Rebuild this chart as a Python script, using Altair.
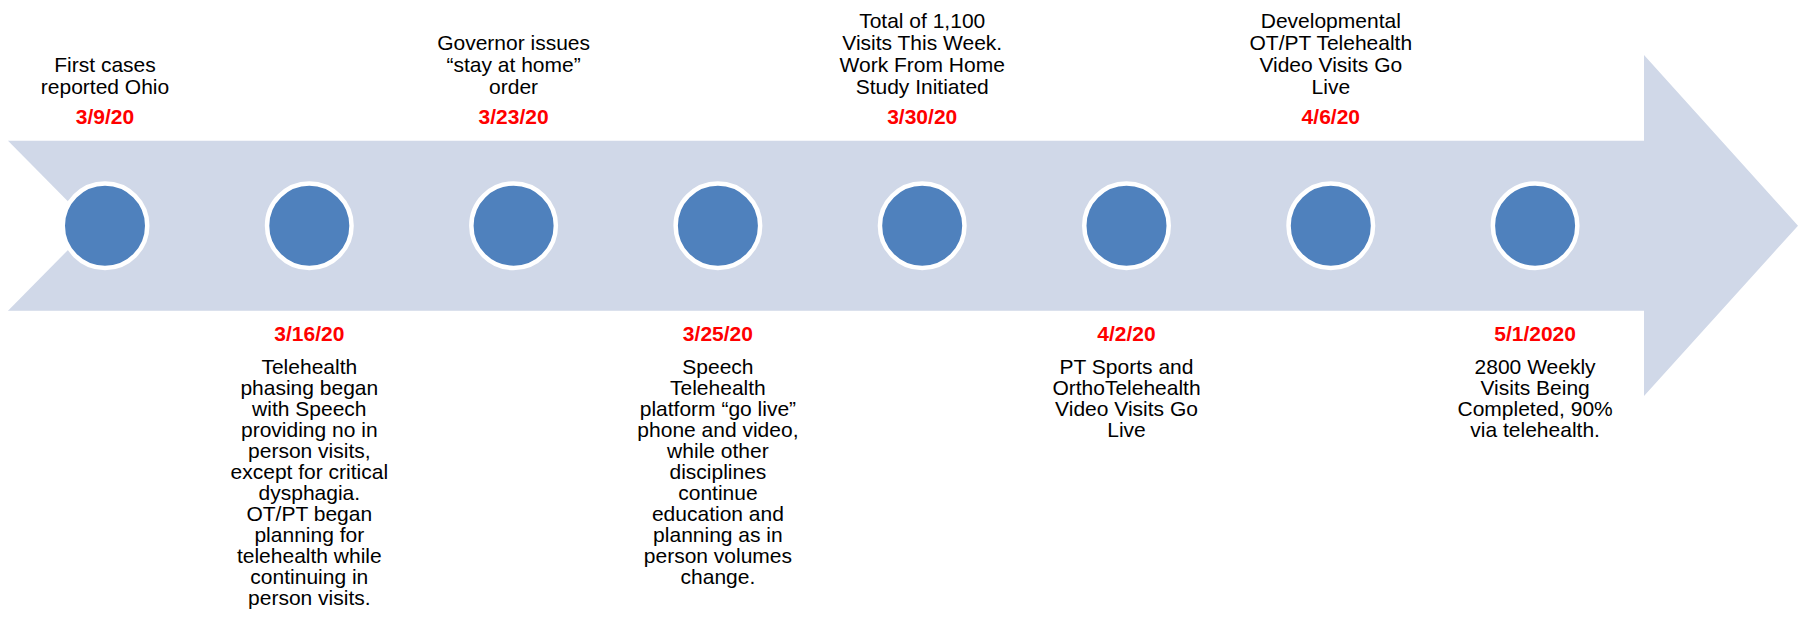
import altair as alt
import pandas as pd

# ---------------- data ----------------
dates = ["3/9/20", "3/16/20", "3/23/20", "3/25/20", "3/30/20", "4/2/20", "4/6/20", "5/1/2020"]
descs = [
    "First cases\nreported Ohio",
    "Telehealth\nphasing began\nwith Speech\nproviding no in\nperson visits,\nexcept for critical\ndysphagia.\nOT/PT began\nplanning for\ntelehealth while\ncontinuing in\nperson visits.",
    "Governor issues\n\u201cstay at home\u201d\norder",
    "Speech\nTelehealth\nplatform \u201cgo live\u201d\nphone and video,\nwhile other\ndisciplines\ncontinue\neducation and\nplanning as in\nperson volumes\nchange.",
    "Total of 1,100\nVisits This Week.\nWork From Home\nStudy Initiated",
    "PT Sports and\nOrthoTelehealth\nVideo Visits Go\nLive",
    "Developmental\nOT/PT Telehealth\nVideo Visits Go\nLive",
    "2800 Weekly\nVisits Being\nCompleted, 90%\nvia telehealth.",
]
sides = ["top", "bottom", "top", "bottom", "top", "bottom", "top", "bottom"]

# ---------------- layout (page pixels) ----------------
PAGE = 8
W, H = 1790, 603
CX0, DX = 105.0, 204.3          # first circle centre and spacing
BAND_TOP, BAND_BOT, MID = 140.7, 310.7, 225.7
NOTCH_X = 92
SHAFT_END = 1644
HEAD_TOP, HEAD_BOT = 55, 396
TIP_X = 1798
FONT = "Liberation Sans, Arial, Helvetica, sans-serif"
FS = 21
LH_TOP = 22.2
LH_BOT = 21.0
DIAM = 84.5


def ux(px):
    return (px - CX0) / DX


events = pd.DataFrame({"pos": list(range(len(dates))), "date": dates, "desc": descs, "side": sides})
events["nlines"] = events["desc"].str.count("\n") + 1

xscale = alt.Scale(domain=[ux(PAGE), ux(PAGE + W)], nice=False, zero=False)
yscale = alt.Scale(domain=[PAGE, PAGE + H], reverse=True, nice=False, zero=False)

arrow = pd.DataFrame({
    "x": [ux(PAGE), ux(SHAFT_END), ux(SHAFT_END + 0.01), ux(TIP_X)],
    "y": [BAND_TOP, BAND_TOP, HEAD_TOP, MID],
    "y2": [BAND_BOT, BAND_BOT, HEAD_BOT, MID],
})
notch = pd.DataFrame({
    "x": [ux(PAGE - 2), ux(NOTCH_X)],
    "y": [BAND_TOP - 2, MID],
    "y2": [BAND_BOT + 2, MID],
})

band = alt.Chart(arrow).mark_area(color="#D0D8E8", interpolate="linear", opacity=1).encode(
    x=alt.X("x:Q", scale=xscale, axis=None),
    y=alt.Y("y:Q", scale=yscale, axis=None),
    y2="y2:Q",
)
notch_layer = alt.Chart(notch).mark_area(color="white", interpolate="linear", opacity=1).encode(
    x=alt.X("x:Q", scale=xscale, axis=None),
    y=alt.Y("y:Q", scale=yscale, axis=None),
    y2="y2:Q",
)

circles = alt.Chart(events).mark_point(
    shape="circle", filled=True, size=DIAM * DIAM, fill="#4F81BD", stroke="white", strokeWidth=4.5, opacity=1
).encode(
    x=alt.X("pos:Q", scale=xscale, axis=None),
    y=alt.Y(datum=MID, type="quantitative", scale=yscale, axis=None),
)

base = alt.Chart(events)

top_dates = base.transform_filter(alt.datum.side == "top").mark_text(
    font=FONT, fontSize=FS, fontWeight="bold", color="#FF0000", align="center", baseline="middle"
).encode(
    x=alt.X("pos:Q", scale=xscale, axis=None),
    y=alt.Y(datum=118.2, type="quantitative", scale=yscale, axis=None),
    text="date:N",
)
bot_dates = base.transform_filter(alt.datum.side == "bottom").mark_text(
    font=FONT, fontSize=FS, fontWeight="bold", color="#FF0000", align="center", baseline="middle"
).encode(
    x=alt.X("pos:Q", scale=xscale, axis=None),
    y=alt.Y(datum=334.8, type="quantitative", scale=yscale, axis=None),
    text="date:N",
)

top_desc = base.transform_filter(alt.datum.side == "top").transform_calculate(
    ytxt=f"94.2 - (datum.nlines - 1) * {LH_TOP}"
).mark_text(
    font=FONT, fontSize=FS, color="#000000", align="center", baseline="alphabetic",
    lineBreak="\n", lineHeight=LH_TOP
).encode(
    x=alt.X("pos:Q", scale=xscale, axis=None),
    y=alt.Y("ytxt:Q", scale=yscale, axis=None),
    text="desc:N",
)
bot_desc = base.transform_filter(alt.datum.side == "bottom").mark_text(
    font=FONT, fontSize=FS, color="#000000", align="center", baseline="alphabetic",
    lineBreak="\n", lineHeight=LH_BOT
).encode(
    x=alt.X("pos:Q", scale=xscale, axis=None),
    y=alt.Y(datum=373.5, type="quantitative", scale=yscale, axis=None),
    text="desc:N",
)

chart = alt.layer(band, notch_layer, circles, top_dates, bot_dates, top_desc, bot_desc).properties(
    width=W, height=H, padding=0, autosize=alt.AutoSizeParams(type="none"), background="white"
).configure_view(stroke=None)

chart.save("out.html", embed_options={"renderer": "svg", "actions": False})
